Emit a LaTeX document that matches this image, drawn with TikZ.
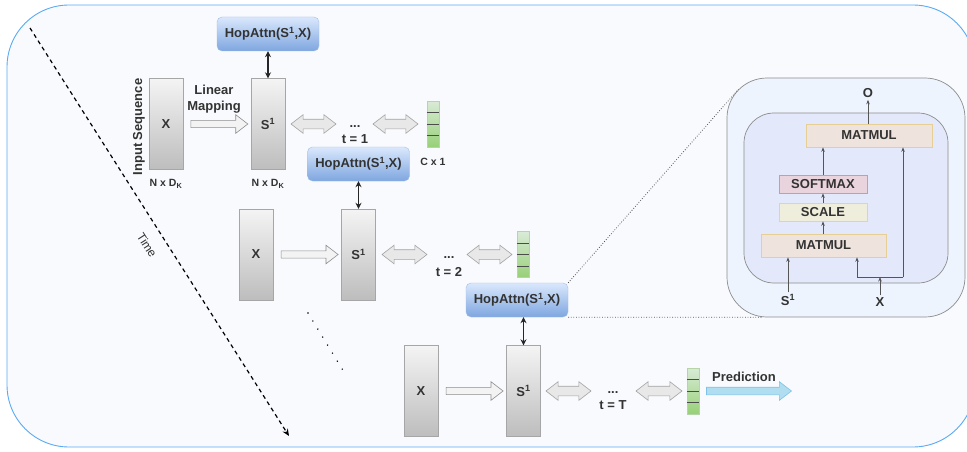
\documentclass[tikz,border=0pt]{standalone}
\usepackage{fontspec}
\setmainfont{Liberation Sans}
\usetikzlibrary{calc,arrows.meta,shapes.arrows}

\definecolor{ink}{HTML}{333333}
\definecolor{frameblue}{HTML}{5AAAF4}
\definecolor{framefill}{HTML}{F8FAFD}
\definecolor{blocktop}{HTML}{F4F4F4}
\definecolor{blockbot}{HTML}{BDBDBD}
\definecolor{blockline}{HTML}{A6A6A6}
\definecolor{hoptop}{HTML}{DAE8FC}
\definecolor{hopbot}{HTML}{7EA6E0}
\definecolor{hopline}{HTML}{A3BFE8}
\definecolor{vectop}{HTML}{D9EBD7}
\definecolor{vecbot}{HTML}{97D077}
\definecolor{vecline}{HTML}{B5D5A6}
\definecolor{mapfill}{HTML}{F3F3F3}
\definecolor{mapline}{HTML}{8E8E8E}
\definecolor{gapfill}{HTML}{E8E8E8}
\definecolor{gapline}{HTML}{A3A3A3}
\definecolor{predfill}{HTML}{B1DDF0}
\definecolor{predline}{HTML}{7DC3E8}
\definecolor{panelfill}{HTML}{EEF4FD}
\definecolor{innerfill}{HTML}{E3E9FB}
\definecolor{panelline}{HTML}{8C8C8C}
\definecolor{mmfill}{HTML}{EEE4DD}
\definecolor{mmline}{HTML}{E6CF94}
\definecolor{smfill}{HTML}{E9D3DC}
\definecolor{smline}{HTML}{D993A3}
\definecolor{scfill}{HTML}{EFEEDC}
\definecolor{scline}{HTML}{DDD8A2}
\definecolor{flowgray}{HTML}{555555}

\tikzset{
  lbl/.style={text=ink, font=\bfseries\fontsize{13}{16}\selectfont, inner sep=0pt},
  sublbl/.style={text=ink, font=\bfseries\fontsize{10.5}{12}\selectfont, inner sep=0pt},
  seqblock/.style={lbl, draw=blockline, top color=blocktop, bottom color=blockbot, minimum width=34pt, minimum height=91pt},
  hopbox/.style={lbl, draw=hopline, top color=hoptop, bottom color=hopbot, rounded corners=5pt, minimum width=102pt, minimum height=34pt},
  outvec/.style={draw=vecline, top color=vectop, bottom color=vecbot, minimum width=12pt, minimum height=46pt, inner sep=0pt},
  vecrule/.style={draw=black!70, line width=0.6pt},
  maparrow/.style={single arrow, draw=mapline, fill=mapfill, line width=0.6pt, inner sep=0pt, inner ysep=3.3pt, single arrow head extend=5.7pt, single arrow tip angle=75, minimum height=57pt},
  gaparrow/.style={double arrow, draw=gapline, fill=gapfill, line width=0.6pt, inner sep=0pt, inner ysep=4.5pt, double arrow head extend=4.5pt, double arrow tip angle=75, minimum height=45pt},
  hoplink/.style={{Stealth[length=6pt,width=6pt]}-{Stealth[length=6pt,width=6pt]}, draw=black!85, line width=1.3pt},
  opbox/.style={lbl, draw=#1line, fill=#1fill, line width=0.6pt},
  flow/.style={-{Stealth[length=4.5pt,width=3.5pt]}, draw=flowgray, line width=0.7pt},
  callout/.style={draw=flowgray, line width=0.8pt, dash pattern=on 0.8pt off 1.8pt},
}

\def\vecrules#1{%
  \draw[vecrule] ($(#1.north west)!.25!(#1.south west)$) -- ($(#1.north east)!.25!(#1.south east)$);
  \draw[vecrule] ($(#1.north west)!.5!(#1.south west)$) -- ($(#1.north east)!.5!(#1.south east)$);
  \draw[vecrule] ($(#1.north west)!.75!(#1.south west)$) -- ($(#1.north east)!.75!(#1.south east)$);
}

\begin{document}
\begin{tikzpicture}[x=1pt,y=-1pt]
  \useasboundingbox (0,0) rectangle (967,452);
  \clip (0,0) rectangle (967,452);

  %%%%% FRAME %%%%%
  \draw[draw=frameblue, fill=framefill, line width=0.9pt, rounded corners=62pt] (7,5) rectangle (975,447);

  % time axis
  \coordinate (tstart) at (30,28);
  \coordinate (tend) at (289,436);
  \draw[line width=1.2pt, dash pattern=on 4pt off 3.5pt, -{Stealth[length=7pt,width=6pt]}] (tstart) -- (tend);
  \node[text=ink, font=\fontsize{12}{14}\selectfont, rotate=-57.5, inner sep=0pt] (timelbl) at (147,245) {Time};

  %%%%% t = 1 %%%%%
  \node[hopbox] (hop1) at (268,34) {HopAttn(S\textsuperscript{1},X)};
  \node[seqblock] (x1) at (166,124) {X};
  \node[seqblock] (s1) at (268,124) {S\textsuperscript{1}};
  \node[lbl, rotate=90] (inseq) at (139,127) {Input Sequence};
  \node[lbl, align=center] (linmap) at (214,99.5) {Linear\\Mapping};
  \node[sublbl] (dim1) at (166,184) {N x D\textsubscript{K}};
  \node[sublbl] (dim2) at (268,184) {N x D\textsubscript{K}};
  \node[maparrow] (map1) at ($(x1.east)!.5!(s1.west)$) {};
  \node[gaparrow] (gap1a) at (313.5,124) {};
  \node[lbl, anchor=base] (dots1) at (355,127) {...};
  \node[lbl, anchor=base] (t1) at (355,143) {t = 1};
  \node[gaparrow] (gap1b) at (395.5,124) {};
  \node[outvec] (v1) at (433,124) {};
  \vecrules{v1}
  \node[sublbl] (cdim) at (433,162) {C x 1};
  \draw[hoplink] (hop1.south) -- (s1.north);

  %%%%% t = 2 %%%%%
  \node[hopbox] (hop2) at (358.5,164) {HopAttn(S\textsuperscript{1},X)};
  \node[seqblock] (x2) at (256,254.5) {X};
  \node[seqblock] (s2) at (358.5,254.5) {S\textsuperscript{1}};
  \node[maparrow] (map2) at ($(x2.east)!.5!(s2.west)$) {};
  \node[gaparrow] (gap2a) at (404.5,254.5) {};
  \node[lbl, anchor=base] (dots2) at (449,258) {...};
  \node[lbl, anchor=base] (t2) at (449,276) {t = 2};
  \node[gaparrow] (gap2b) at (489.5,254.5) {};
  \node[outvec] (v2) at (523,254.5) {};
  \vecrules{v2}
  \draw[hoplink] (hop2.south) -- (s2.north);

  % more steps
  \draw[line width=1.6pt, line cap=round, dash pattern=on 0pt off 9.4pt] (308,313) -- (347,377);

  %%%%% t = T %%%%%
  \node[hopbox] (hop3) at (517,300) {HopAttn(S\textsuperscript{1},X)};
  \node[seqblock] (x3) at (421,391) {X};
  \node[seqblock] (s3) at (523.5,391) {S\textsuperscript{1}};
  \node[maparrow] (map3) at ($(x3.east)!.5!(s3.west)$) {};
  \node[gaparrow] (gap3a) at (568.5,391) {};
  \node[lbl, anchor=base] (dots3) at (613,393) {...};
  \node[lbl, anchor=base] (t3) at (613,409) {t = T};
  \node[gaparrow, minimum height=46pt] (gap3b) at (659,391) {};
  \node[outvec] (v3) at (693,391) {};
  \vecrules{v3}
  \node[maparrow, draw=predline, fill=predfill, inner ysep=3.5pt, single arrow head extend=5.5pt, minimum height=85pt] (pred) at (746.5,391) {};
  \node[lbl] (predlbl) at (744,377) {Prediction};
  \draw[hoplink] (hop3.south -| s3.north) -- (s3.north);

  %%%%% HOPATTN DETAIL %%%%%
  \node[draw=panelline, fill=panelfill, rounded corners=40pt, line width=0.7pt, minimum width=238pt, minimum height=239pt, inner sep=0pt] (panel) at (846,197.5) {};
  \node[draw=panelline, fill=innerfill, rounded corners=30pt, line width=0.7pt, minimum width=204pt, minimum height=170pt, inner sep=0pt] (inner) at (846,198) {};
  \draw[callout] (hop3.north east) -- ($(panel.north west)+(11.7,11.7)$);
  \draw[callout] (hop3.south east) -- ($(panel.south west)+(36,0)$);

  \node[opbox=mm, minimum width=126pt, minimum height=23pt] (mm2) at (869,135.5) {MATMUL};
  \node[opbox=sm, minimum width=88pt, minimum height=18pt] (soft) at (823,184) {SOFTMAX};
  \node[opbox=sc, minimum width=88pt, minimum height=18pt] (scale) at (823,212) {SCALE};
  \node[opbox=mm, minimum width=125pt, minimum height=23pt] (mm1) at (823.5,245.5) {MATMUL};
  \node[lbl, inner sep=2pt] (olbl) at (868,93) {O};
  \node[lbl, inner sep=2pt] (sin) at (788,300) {S\textsuperscript{1}};
  \node[lbl, inner sep=2pt] (xin) at (880,302) {X};
  \coordinate (jn) at (880,277);
  \coordinate (jl) at (857,277);
  \coordinate (jr) at (903,277);

  \draw[flow] (mm2.north -| olbl.south) -- (olbl.south);
  \draw[flow] (soft.north) -- (soft.north |- mm2.south);
  \draw[flow] (scale.north) -- (soft.south);
  \draw[flow] (mm1.north -| scale.south) -- (scale.south);
  \draw[flow] (sin.north) -- (sin.north |- mm1.south);
  \draw[flow] (xin.north) -- (jn);
  \draw[flow] (jr) -- (jr |- mm2.south);
  \draw[flow] (jr) -- (jl) -- (jl |- mm1.south);
\end{tikzpicture}
\end{document}
